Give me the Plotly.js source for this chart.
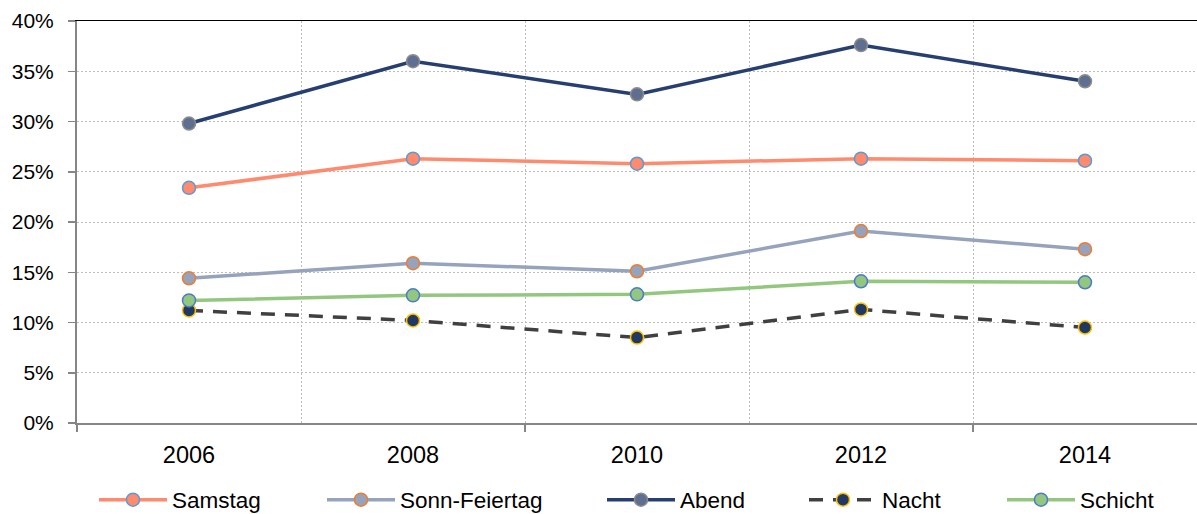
<!DOCTYPE html>
<html>
<head>
<meta charset="utf-8">
<script src="https://cdn.plot.ly/plotly-3.0.1.min.js"></script>
<style>
  html, body { margin: 0; padding: 0; background: #fff; }
  #chart { width: 1197px; height: 514px; }
</style>
</head>
<body>
<div id="chart"></div>
<script>
// Jahre (Kategorien)
const years = ["2006", "2008", "2010", "2012", "2014"];
const yearPos = [0, 1, 2, 3, 4];

// Anteile in Prozent
const samstag = [23.4, 26.3, 25.8, 26.3, 26.1];
const sonnFeiertag = [14.4, 15.9, 15.1, 19.1, 17.3];
const abend = [29.8, 36.0, 32.7, 37.6, 34.0];
const nacht = [11.2, 10.2, 8.5, 11.3, 9.5];
const schicht = [12.2, 12.7, 12.8, 14.1, 14.0];

const yTicks = [0, 5, 10, 15, 20, 25, 30, 35, 40];

const font = "Liberation Sans, Arial, sans-serif";
const gridDash = "2px,2px";
const gridColor = "#bdbdbd";

function series(name, y, lineColor, fill, outline, dash, legendId) {
    return {
        type: "scatter",
        mode: "lines+markers",
        name: name,
        x: yearPos,
        y: y,
        legend: legendId,
        line: { color: lineColor, width: 3.5, dash: dash || "solid" },
        marker: { size: 13, color: fill, line: { color: outline, width: 1.5 } },
        hoverinfo: "skip"
    };
}

// leere Spuren, damit die Hilfsachsen gezeichnet werden
function axisHolder(axis) {
    return { type: "scatter", mode: "markers", x: [0], y: [null], xaxis: axis,
             showlegend: false, hoverinfo: "skip" };
}

const data = [
    axisHolder("x2"),
    axisHolder("x3"),
    series("Samstag", samstag, "#FF8A6E", "#FF8A6E", "#5B9BD5", null, "legend"),
    series("Sonn-Feiertag", sonnFeiertag, "#96A3BC", "#96A3BC", "#ED7D31", null, "legend2"),
    series("Abend", abend, "#263E70", "#5F6F91", "#8C8C8C", null, "legend3"),
    series("Nacht", nacht, "#404040", "#1F3864", "#FFC000", "14px,10px", "legend4"),
    series("Schicht", schicht, "#93C77F", "#93C77F", "#4A7CC9", null, "legend5")
];

function legendAt(px) {
    return {
        orientation: "h",
        xref: "container", yref: "container",
        x: px / 1197, xanchor: "left",
        y: 14 / 514, yanchor: "middle",
        itemwidth: 68,
        font: { family: font, size: 22.5, color: "#000" },
        bgcolor: "rgba(0,0,0,0)"
    };
}

const layout = {
    width: 1197,
    height: 514,
    margin: { l: 77, r: 0, t: 21, b: 91 },
    paper_bgcolor: "#fff",
    plot_bgcolor: "#fff",
    font: { family: font, size: 20, color: "#000" },
    showlegend: true,

    xaxis: {
        range: [-0.5, 4.5],
        tickmode: "array",
        tickvals: yearPos,
        ticktext: years,
        ticks: "outside",
        ticklen: 10,
        tickcolor: "rgba(0,0,0,0)",
        showgrid: false,
        zeroline: false,
        showline: true,
        linecolor: "#868686",
        linewidth: 2,
        tickfont: { family: font, size: 23.5, color: "#000" },
        fixedrange: true
    },
    // Trennstriche zwischen den Jahren
    xaxis2: {
        overlaying: "x",
        anchor: "y",
        side: "bottom",
        range: [-0.5, 4.5],
        tickmode: "array",
        tickvals: [-0.5, 1.5, 3.5],
        ticktext: ["", "", ""],
        ticks: "outside",
        ticklen: 8,
        tickwidth: 1.5,
        tickcolor: "#868686",
        showgrid: true,
        gridcolor: gridColor,
        griddash: gridDash,
        gridwidth: 1,
        minor: {
            tickmode: "array",
            tickvals: [0.5, 2.5],
            showgrid: true,
            gridcolor: gridColor,
            griddash: gridDash,
            gridwidth: 1,
            ticks: ""
        },
        zeroline: false,
        showline: false,
        fixedrange: true
    },
    // obere Begrenzung
    xaxis3: {
        overlaying: "x",
        anchor: "y",
        side: "top",
        range: [-0.5, 4.5],
        showticklabels: false,
        ticks: "",
        showgrid: false,
        zeroline: false,
        showline: true,
        linecolor: "#000",
        linewidth: 1,
        fixedrange: true
    },
    yaxis: {
        range: [0, 40],
        tickmode: "array",
        tickvals: yTicks,
        ticktext: yTicks.map(v => v + "%"),
        ticks: "outside",
        ticklen: 7,
        tickwidth: 1.5,
        tickcolor: "#868686",
        ticklabelstandoff: 10,
        showgrid: true,
        gridcolor: gridColor,
        griddash: gridDash,
        gridwidth: 1,
        zeroline: false,
        showline: true,
        linecolor: "#868686",
        linewidth: 2,
        tickfont: { family: font, size: 21, color: "#000" },
        fixedrange: true
    },

    legend: legendAt(94),
    legend2: legendAt(322),
    legend3: legendAt(602),
    legend4: legendAt(804),
    legend5: legendAt(1002)
};

Plotly.newPlot("chart", data, layout, { displayModeBar: false, staticPlot: true });
</script>
</body>
</html>
